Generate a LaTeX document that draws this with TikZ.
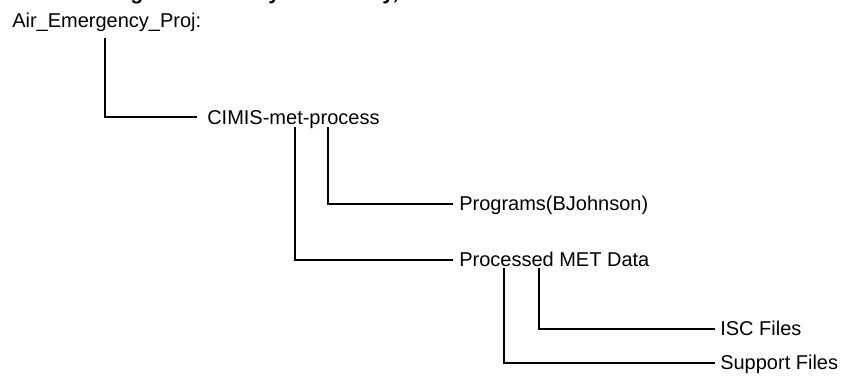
\documentclass[tikz,border=0pt]{standalone}
\usepackage{fontspec}
\setmainfont{Liberation Sans}
\usetikzlibrary{calc}
\begin{document}
\begin{tikzpicture}[x=0.75pt,y=-0.75pt,
  lbl/.style={anchor=base west, inner sep=0pt, font=\fontsize{15}{18}\selectfont},
  conn/.style={draw=black, line width=0.9pt},
  frag/.style={anchor=base west, inner sep=0pt, font=\bfseries\fontsize{16}{19}\selectfont}]
\useasboundingbox (0,0) rectangle (847,383);
\fill[white] (0,0) rectangle (847,383);
% cut-off title fragments at the top edge
\node[frag] (fg) at (130,-0.5) {g};
\node[frag] (fy1) at (268,-0.5) {y};
\node[frag] (fy2) at (382,-0.5) {y,};
% tree labels
\node[lbl] (air) at (12,27) {Air\_Emergency\_Proj:};
\node[lbl] (cimis) at (207,124) {CIMIS-met-process};
\node[lbl] (prog) at (459,210) {Programs(BJohnson)};
\node[lbl] (met) at (459,266) {Processed MET Data};
\node[lbl] (isc) at (720,335) {ISC Files};
\node[lbl] (sup) at (720,369) {Support Files};
% connectors
\draw[conn] ($(air.base west)+(93,11)$) |- ($(cimis.base west)+(-10,-7)$);
\draw[conn] ($(cimis.base west)+(121,3)$) |- ($(prog.base west)+(-6,-6)$);
\draw[conn] ($(cimis.base west)+(88,3)$) |- ($(met.base west)+(-6,-6)$);
\draw[conn] ($(met.base west)+(80,2)$) |- ($(isc.base west)+(-5,-6)$);
\draw[conn] ($(met.base west)+(45,2)$) |- ($(sup.base west)+(-5,-6)$);
\end{tikzpicture}
\end{document}
